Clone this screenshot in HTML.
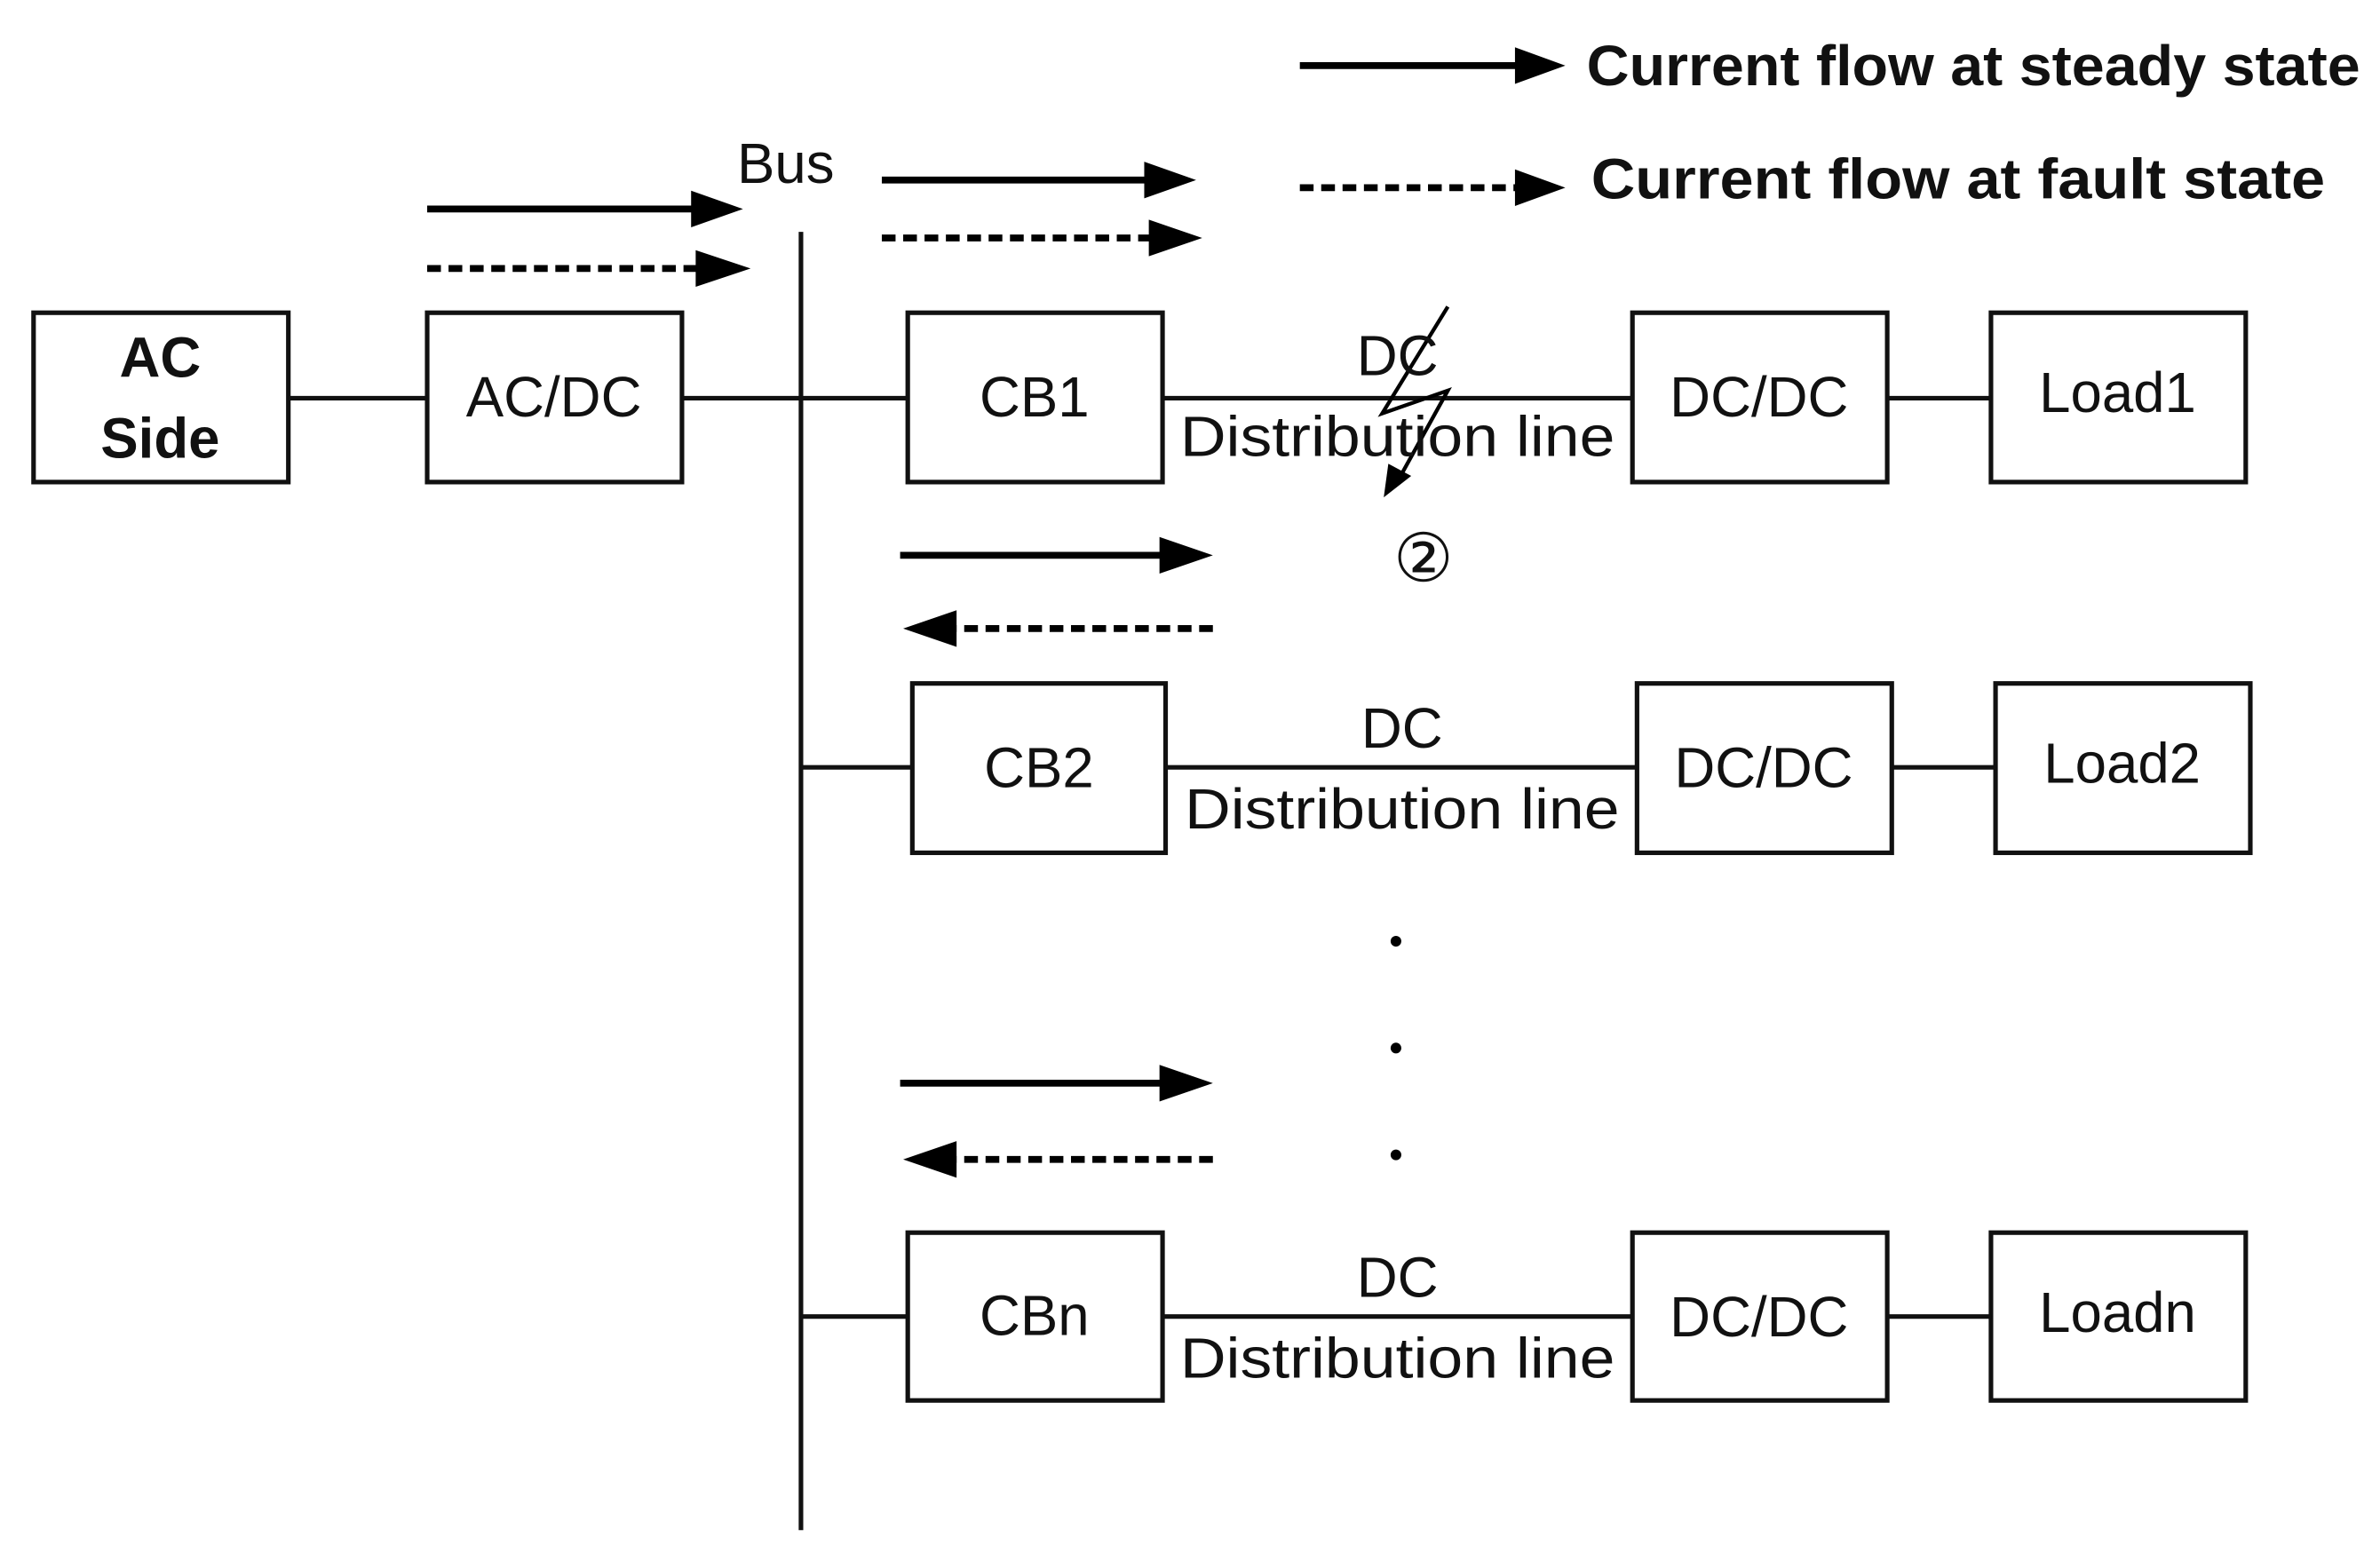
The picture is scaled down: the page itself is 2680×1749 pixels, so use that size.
<!DOCTYPE html>
<html><head><meta charset="utf-8"><style>
html,body{margin:0;padding:0;background:#fff;}
svg{display:block;}
text{font-family:"Liberation Sans",sans-serif;fill:#111;}
</style></head><body>
<svg width="2680" height="1749" viewBox="0 0 1560 1018" preserveAspectRatio="none" xmlns="http://www.w3.org/2000/svg">
<g fill="none" stroke="#111" stroke-width="3">
<rect x="22" y="205" width="167" height="111"/>
<rect x="280" y="205" width="167" height="111"/>
<rect x="595" y="205" width="167" height="111"/>
<rect x="1070" y="205" width="167" height="111"/>
<rect x="1305" y="205" width="167" height="111"/>
<rect x="598" y="448" width="166" height="111"/>
<rect x="1073" y="448" width="167" height="111"/>
<rect x="1308" y="448" width="167" height="111"/>
<rect x="595" y="808" width="167" height="110"/>
<rect x="1070" y="808" width="167" height="110"/>
<rect x="1305" y="808" width="167" height="110"/>
<line x1="525" y1="152" x2="525" y2="1003"/>
<line x1="189" y1="261" x2="280" y2="261"/>
<line x1="447" y1="261" x2="595" y2="261"/>
<line x1="762" y1="261" x2="1070" y2="261"/>
<line x1="1237" y1="261" x2="1305" y2="261"/>
<line x1="525" y1="503" x2="598" y2="503"/>
<line x1="764" y1="503" x2="1073" y2="503"/>
<line x1="1240" y1="503" x2="1308" y2="503"/>
<line x1="525" y1="863" x2="595" y2="863"/>
<line x1="762" y1="863" x2="1070" y2="863"/>
<line x1="1237" y1="863" x2="1305" y2="863"/>
</g>
<g stroke="#000" stroke-width="4.5" fill="none">
<line x1="852" y1="43" x2="995" y2="43"/><path d="M993,31 L1026,43 L993,55z" fill="#000" stroke="none"/>
<line x1="852" y1="123" x2="995" y2="123" stroke-dasharray="9,5"/><path d="M993,111 L1026,123 L993,135z" fill="#000" stroke="none"/>
<line x1="280" y1="137" x2="455" y2="137"/><path d="M453,125 L487,137 L453,149z" fill="#000" stroke="none"/>
<line x1="280" y1="176" x2="458" y2="176" stroke-dasharray="9,5"/><path d="M456,164 L492,176 L456,188z" fill="#000" stroke="none"/>
<line x1="578" y1="118" x2="752" y2="118"/><path d="M750,106 L784,118 L750,130z" fill="#000" stroke="none"/>
<line x1="578" y1="156" x2="755" y2="156" stroke-dasharray="9,5"/><path d="M753,144 L788,156 L753,168z" fill="#000" stroke="none"/>
<line x1="590" y1="364" x2="762" y2="364"/><path d="M760,352 L795,364 L760,376z" fill="#000" stroke="none"/>
<line x1="795" y1="412" x2="625" y2="412" stroke-dasharray="9,5"/><path d="M627,400 L592,412 L627,424z" fill="#000" stroke="none"/>
<line x1="590" y1="710" x2="762" y2="710"/><path d="M760,698 L795,710 L760,722z" fill="#000" stroke="none"/>
<line x1="795" y1="760" x2="625" y2="760" stroke-dasharray="9,5"/><path d="M627,748 L592,760 L627,772z" fill="#000" stroke="none"/>
</g>
<polyline points="949,201 906,271 949,256 918,312" fill="none" stroke="#000" stroke-width="2.5"/>
<path d="M910,304 L907,326 L925,312z" fill="#000"/>
<circle cx="915" cy="617" r="3.5" fill="#000"/>
<circle cx="915" cy="687" r="3.5" fill="#000"/>
<circle cx="915" cy="757" r="3.5" fill="#000"/>
<g font-size="37" text-anchor="middle">
<text x="105" y="247" font-weight="bold">AC</text>
<text x="105" y="300" font-weight="bold">Side</text>
<text x="363" y="273">AC/DC</text>
<text x="515" y="120">Bus</text>
<text x="678" y="273">CB1</text>
<text x="681" y="516">CB2</text>
<text x="678" y="875">CBn</text>
<text x="1153" y="273">DC/DC</text>
<text x="1156" y="516">DC/DC</text>
<text x="1153" y="876">DC/DC</text>
<text x="1388" y="270">Load1</text>
<text x="1391" y="513">Load2</text>
<text x="1388" y="873">Loadn</text>
<text x="916" y="246">DC</text>
<text x="916" y="299" textLength="285" lengthAdjust="spacingAndGlyphs">Distribution line</text>
<text x="919" y="490">DC</text>
<text x="919" y="543" textLength="285" lengthAdjust="spacingAndGlyphs">Distribution line</text>
<text x="916" y="850">DC</text>
<text x="916" y="903" textLength="285" lengthAdjust="spacingAndGlyphs">Distribution line</text>
<text x="933" y="381" font-size="44">②</text>
</g>
<g font-size="37" font-weight="bold">
<text x="1040" y="56" textLength="507" lengthAdjust="spacingAndGlyphs">Current flow at steady state</text>
<text x="1043" y="130" textLength="481" lengthAdjust="spacingAndGlyphs">Current flow at fault  state</text>
</g>
</svg>
</body></html>
